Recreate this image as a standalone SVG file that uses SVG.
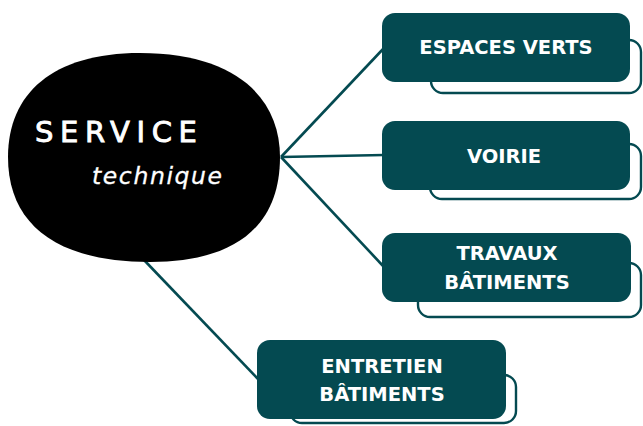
<svg xmlns="http://www.w3.org/2000/svg" width="643" height="426" viewBox="0 0 643 426">
<style>
.box{fill:#044a51}
.sh{fill:#ffffff;stroke:#044a51;stroke-width:2.4}
.lbl{font-family:"DejaVu Sans","Liberation Sans",sans-serif;font-weight:bold;font-size:19.5px;fill:#ffffff;text-anchor:middle}
.con{stroke:#044a51;stroke-width:2.6;fill:none}
</style>
<rect width="643" height="426" fill="#ffffff"/>
<g id="connectors">
<line class="con" x1="281" y1="157" x2="384" y2="48"/>
<line class="con" x1="281" y1="157" x2="384" y2="155"/>
<line class="con" x1="281" y1="157" x2="384" y2="267"/>
<line class="con" x1="144" y1="260" x2="259" y2="380"/>
</g>
<g id="service">
<path d="M140,53 C236,53 280,98 280,157 C280,224 238,262 150,262 C56,262 8,224 8,157 C8,94 52,53 140,53 Z" fill="#000000"/>
<text x="35" y="142" font-family="DejaVu Sans,Liberation Sans,sans-serif" font-size="29" fill="#ffffff" stroke="#ffffff" stroke-width="0.9" letter-spacing="6.6">SERVICE</text>
<text x="92" y="184" font-family="DejaVu Sans,Liberation Sans,sans-serif" font-style="italic" font-size="23.5" fill="#ffffff" stroke="#ffffff" stroke-width="0.3" letter-spacing="1.6">technique</text>
</g>
<g id="espaces-verts">
<rect class="sh" x="431" y="40" width="210" height="53" rx="12"/>
<rect class="box" x="382" y="13" width="248" height="69" rx="13"/>
<text class="lbl" x="506" y="54">ESPACES VERTS</text>
</g>
<g id="voirie">
<rect class="sh" x="430" y="144" width="211" height="55" rx="12"/>
<rect class="box" x="382" y="121" width="248" height="69" rx="13"/>
<text class="lbl" x="504" y="163">VOIRIE</text>
</g>
<g id="travaux-batiments">
<rect class="sh" x="418" y="263" width="223" height="54" rx="12"/>
<rect class="box" x="382" y="233" width="249" height="69" rx="13"/>
<text class="lbl" x="507" y="260">TRAVAUX</text>
<text class="lbl" x="507" y="289">BÂTIMENTS</text>
</g>
<g id="entretien-batiments">
<rect class="sh" x="290" y="375" width="226" height="48" rx="12"/>
<rect class="box" x="257" y="340" width="249" height="79" rx="13"/>
<text class="lbl" x="382" y="373">ENTRETIEN</text>
<text class="lbl" x="382" y="401">BÂTIMENTS</text>
</g>
</svg>
